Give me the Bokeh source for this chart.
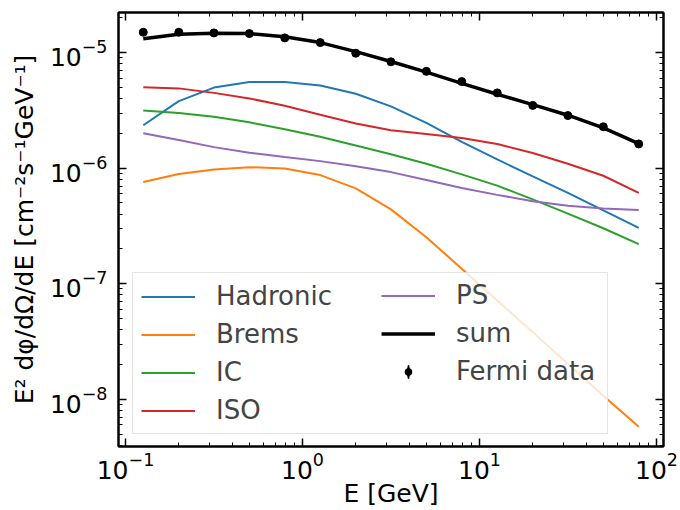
import math
from bokeh.plotting import figure
from bokeh.models import LogAxis, LogTicker, Legend, LegendItem, Range1d
from bokeh.embed import file_html
from bokeh.resources import INLINE

# ---- data ----
energy = [0.126, 0.200, 0.316, 0.501, 0.794, 1.26, 2.00, 3.16, 5.01, 7.94,
          12.6, 20.0, 31.6, 50.1, 79.4]
hadronic = [2.35e-6, 3.80e-6, 4.98e-6, 5.57e-6, 5.57e-6, 5.18e-6, 4.40e-6, 3.42e-6,
            2.46e-6, 1.69e-6, 1.19e-6, 8.49e-7, 6.10e-7, 4.31e-7, 3.04e-7]
brems = [7.59e-7, 8.88e-7, 9.74e-7, 1.02e-6, 9.94e-7, 8.71e-7, 6.69e-7, 4.40e-7,
         2.52e-7, 1.35e-7, 7.15e-8, 3.81e-8, 2.02e-8, 1.07e-8, 5.78e-9]
ic = [3.16e-6, 3.00e-6, 2.79e-6, 2.49e-6, 2.17e-6, 1.87e-6, 1.57e-6, 1.32e-6,
      1.09e-6, 8.83e-7, 7.06e-7, 5.36e-7, 4.04e-7, 3.02e-7, 2.20e-7]
iso = [5.01e-6, 4.90e-6, 4.48e-6, 4.01e-6, 3.47e-6, 2.90e-6, 2.43e-6, 2.13e-6,
       1.97e-6, 1.82e-6, 1.62e-6, 1.35e-6, 1.09e-6, 8.59e-7, 6.10e-7]
ps = [2.00e-6, 1.75e-6, 1.52e-6, 1.36e-6, 1.25e-6, 1.15e-6, 1.04e-6, 9.24e-7,
      7.89e-7, 6.74e-7, 5.87e-7, 5.18e-7, 4.72e-7, 4.48e-7, 4.34e-7]
total = [1.32e-5, 1.44e-5, 1.47e-5, 1.46e-5, 1.37e-5, 1.22e-5, 1.02e-5, 8.37e-6,
         6.78e-6, 5.42e-6, 4.36e-6, 3.54e-6, 2.87e-6, 2.23e-6, 1.63e-6]
fermi = [1.50e-5, 1.50e-5, 1.48e-5, 1.46e-5, 1.34e-5, 1.22e-5, 9.87e-6, 8.32e-6,
         6.88e-6, 5.61e-6, 4.48e-6, 3.49e-6, 2.85e-6, 2.28e-6, 1.62e-6]

series_names = ["Hadronic", "Brems", "IC", "ISO", "PS"]
series_vals = [hadronic, brems, ic, iso, ps]
series_colors = ["#1f77b4", "#ff7f0e", "#2ca02c", "#d62728", "#9467bd"]

x_label = "E [GeV]"
y_label = "E² dφ/dΩ/dE [cm⁻²s⁻¹GeV⁻¹]"

FONT = "DejaVu Sans"

# axis ranges: data extent with a 5 % margin in log space
lx0, lx1 = math.log10(min(energy)), math.log10(max(energy))
allv = [v for s in series_vals + [total, fermi] for v in s]
ly0, ly1 = math.log10(min(allv)), math.log10(max(allv))
mx, my = 0.05 * (lx1 - lx0), 0.05 * (ly1 - ly0)

p = figure(width=680, height=510, x_axis_type="log", y_axis_type="log",
           x_range=Range1d(10 ** (lx0 - mx), 10 ** (lx1 + mx)),
           y_range=Range1d(10 ** (ly0 - my), 10 ** (ly1 + my)),
           output_backend="svg", toolbar_location=None,
           min_border_left=118, min_border_right=17,
           min_border_top=12, min_border_bottom=61)
p.xgrid.visible = False
p.ygrid.visible = False
p.outline_line_color = "black"
p.outline_line_width = 2
p.background_fill_color = "white"
p.border_fill_color = "white"

renderers = []
for name, vals, col in zip(series_names, series_vals, series_colors):
    r = p.line(energy, vals, line_color=col, line_width=2)
    renderers.append(r)
r_sum = p.line(energy, total, line_color="black", line_width=3.5)
r_err = p.ellipse(energy, fermi, width=0.6, height=5, width_units="screen",
                  height_units="screen", fill_color="black", line_color="black",
                  line_width=1)
r_dot = p.scatter(energy, fermi, size=8, marker="circle", fill_color="black",
                  line_color="black")

items = [LegendItem(label=n, renderers=[r]) for n, r in zip(series_names, renderers)]
items.append(LegendItem(label="sum", renderers=[r_sum]))
items.append(LegendItem(label="Fermi data", renderers=[r_err, r_dot]))

common = dict(label_text_font=FONT, label_text_font_size="26px",
              glyph_width=54, glyph_height=17, label_standoff=21,
              label_height=30, padding=8, spacing=8, margin=0)
# first column carries the frame of the whole legend box
legend_a = Legend(items=items[:4], location=(14, 12), label_width=383,
                  border_line_color="#cccccc", border_line_width=1,
                  background_fill_color="white", background_fill_alpha=0.8,
                  **common)
# second column, drawn inside the same box
legend_b = Legend(items=items[4:], location=(263, 60), label_width=20,
                  border_line_color=None, background_fill_alpha=0,
                  **common)
p.add_layout(legend_a)
p.add_layout(legend_b)


def style_axis(ax, show_labels=True):
    ax.ticker = LogTicker(num_minor_ticks=10)
    ax.major_tick_in = 8
    ax.major_tick_out = 0
    ax.minor_tick_in = 4
    ax.minor_tick_out = 0
    ax.major_tick_line_width = 1.5
    ax.minor_tick_line_width = 1
    ax.major_tick_line_color = "black"
    ax.minor_tick_line_color = "black"
    ax.axis_line_color = "black"
    ax.axis_line_width = 2
    ax.major_label_text_font = FONT
    ax.major_label_text_color = "black"
    ax.axis_label_text_font = FONT
    ax.axis_label_text_font_style = "normal"
    ax.axis_label_text_color = "black"
    if show_labels:
        ax.major_label_text_font_size = "25px"
    else:
        ax.major_label_text_font_size = "1px"
        ax.major_label_text_alpha = 0
        ax.major_label_standoff = 0


for ax in p.xaxis:
    style_axis(ax)
    ax.axis_label = x_label
    ax.axis_label_text_font_size = "25px"
    ax.major_label_standoff = 5
    ax.axis_label_standoff = -3
for ax in p.yaxis:
    style_axis(ax)
    ax.axis_label = y_label
    ax.axis_label_text_font_size = "25px"
    ax.major_label_standoff = 11
    ax.axis_label_standoff = 8

top_ax = LogAxis()
right_ax = LogAxis()
style_axis(top_ax, False)
style_axis(right_ax, False)
p.add_layout(top_ax, "above")
p.add_layout(right_ax, "right")

open("out.html", "w").write(file_html(p, INLINE))
